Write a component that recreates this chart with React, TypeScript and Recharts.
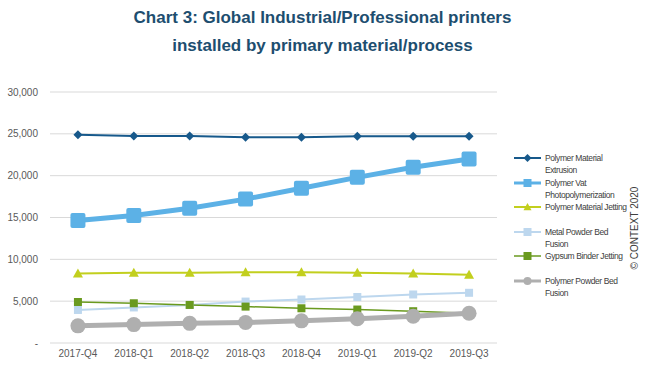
import React from 'react';
import { LineChart, Line, XAxis, YAxis, CartesianGrid } from 'recharts';

const quarters = ['2017-Q4', '2018-Q1', '2018-Q2', '2018-Q3', '2018-Q4', '2019-Q1', '2019-Q2', '2019-Q3'];
const extrusion = [24900, 24750, 24750, 24600, 24600, 24700, 24700, 24700];
const vatPhoto = [14650, 15250, 16100, 17200, 18500, 19800, 21000, 22000];
const matJetting = [8300, 8400, 8400, 8450, 8450, 8400, 8300, 8150];
const metalPbf = [3950, 4250, 4550, 4950, 5200, 5500, 5800, 6000];
const gypsum = [4900, 4750, 4550, 4350, 4150, 4000, 3800, 3550];
const polyPbf = [2050, 2200, 2350, 2450, 2650, 2900, 3200, 3550];
const yTicks = [0, 5000, 10000, 15000, 20000, 25000, 30000];

const seriesNames = [
  'Polymer Material Extrusion',
  'Polymer Vat Photopolymerization',
  'Polymer Material Jetting',
  'Metal Powder Bed Fusion',
  'Gypsum Binder Jetting',
  'Polymer Powder Bed Fusion',
];
const legendLines = [
  ['Polymer Material', 'Extrusion'],
  ['Polymer Vat', 'Photopolymerization'],
  ['Polymer Material Jetting'],
  ['Metal Powder Bed', 'Fusion'],
  ['Gypsum Binder Jetting'],
  ['Polymer Powder Bed', 'Fusion'],
];

const data = quarters.map((q, i) => ({
  q,
  extrusion: extrusion[i],
  vat: vatPhoto[i],
  jetting: matJetting[i],
  metal: metalPbf[i],
  gypsum: gypsum[i],
  powder: polyPbf[i],
}));

type Shape = 'diamond' | 'square' | 'triangle' | 'circle';

const series: { key: string; color: string; width: number; shape: Shape; size: number }[] = [
  { key: 'extrusion', color: '#17598b', width: 2, shape: 'diamond', size: 4.5 },
  { key: 'vat', color: '#5cb1e6', width: 5, shape: 'square', size: 7.5 },
  { key: 'jetting', color: '#c2cf1e', width: 2, shape: 'triangle', size: 5 },
  { key: 'metal', color: '#bdd7ee', width: 2, shape: 'square', size: 4 },
  { key: 'gypsum', color: '#6a9a1f', width: 1.5, shape: 'square', size: 4 },
  { key: 'powder', color: '#afafaf', width: 5, shape: 'circle', size: 7.5 },
];

function marker(shape: Shape, cx: number, cy: number, r: number, color: string, key?: React.Key) {
  if (shape === 'diamond') {
    return <polygon key={key} points={`${cx},${cy - r} ${cx + r},${cy} ${cx},${cy + r} ${cx - r},${cy}`} fill={color} />;
  }
  if (shape === 'square') {
    return <rect key={key} x={cx - r} y={cy - r} width={r * 2} height={r * 2} rx={r > 5 ? 2 : 0} fill={color} />;
  }
  if (shape === 'triangle') {
    return <polygon key={key} points={`${cx},${cy - r} ${cx + r},${cy + r * 0.8} ${cx - r},${cy + r * 0.8}`} fill={color} />;
  }
  return <circle key={key} cx={cx} cy={cy} r={r} fill={color} />;
}

const yFmt = (v: number) => (v === 0 ? '-' : v.toLocaleString('en-US'));

function LegendBox() {
  return (
    <div
      style={{
        position: 'absolute',
        left: 512,
        top: 152,
        width: 112,
        fontSize: 8.5,
        letterSpacing: -0.4,
        color: '#404040',
      }}
    >
      {series.map((s, i) => (
        <div key={s.key} style={{ display: 'flex', height: 24.5, alignItems: 'flex-start' }}>
          <svg width={32} height={12} style={{ flex: 'none' }}>
            <line x1={2} x2={29} y1={6} y2={6} stroke={s.color} strokeWidth={Math.min(s.width, 3)} />
            {marker(s.shape, 15.5, 6, Math.min(s.size, 4), s.color)}
          </svg>
          <div style={{ lineHeight: '12px', marginLeft: 1, whiteSpace: 'nowrap' }} title={seriesNames[i]}>
            {legendLines[i].map((l) => (
              <div key={l}>{l}</div>
            ))}
          </div>
        </div>
      ))}
    </div>
  );
}

export default function App() {
  return (
    <div style={{ position: 'fixed', left: 0, top: 0, width: 650, height: 370, background: '#fff', fontFamily: 'Liberation Sans, Arial, sans-serif' }}>
      <div style={{ position: 'absolute', left: 0, top: 4, width: 645, textAlign: 'center', color: '#1d4e6f', fontWeight: 'bold', fontSize: 17, lineHeight: '28px' }}>
        <div>Chart 3: Global Industrial/Professional printers</div>
        <div>installed by primary material/process</div>
      </div>
      <LineChart width={650} height={370} data={data} margin={{ top: 92, right: 153, bottom: 0, left: 0 }}>
        <CartesianGrid vertical={false} stroke="#d9d9d9" />
        <XAxis
          dataKey="q"
          scale="band"
          height={27}
          axisLine={false}
          tickLine={false}
          tickSize={6}
          tickMargin={1}
          tick={{ fontSize: 10, fill: '#595959' }}
          interval={0}
        />
        <YAxis
          width={50}
          domain={[0, 30000]}
          ticks={yTicks}
          tickFormatter={yFmt}
          axisLine={false}
          tickLine={false}
          tickSize={6}
          tickMargin={6}
          tick={{ fontSize: 10, fill: '#595959' }}
        />
        {series.map((s, i) => (
          <Line
            key={s.key}
            dataKey={s.key}
            name={seriesNames[i]}
            stroke={s.color}
            strokeWidth={s.width}
            isAnimationActive={false}
            dot={(p: any) => marker(s.shape, p.cx, p.cy, s.size, s.color, p.index)}
            activeDot={false}
          />
        ))}
      </LineChart>
      <LegendBox />
      <div
        style={{
          position: 'absolute',
          left: 634,
          top: 228,
          transform: 'translate(-50%, -50%) rotate(-90deg)',
          whiteSpace: 'nowrap',
          fontSize: 10,
          color: '#404040',
        }}
      >
        © CONTEXT 2020
      </div>
    </div>
  );
}
